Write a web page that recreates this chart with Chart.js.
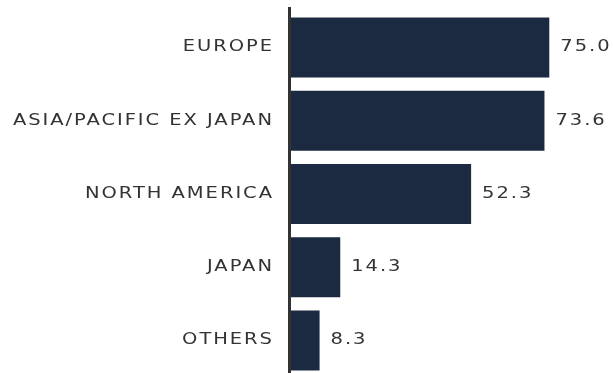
<!DOCTYPE html>
<html>
<head>
<meta charset="utf-8">
<script src="https://cdn.jsdelivr.net/npm/chart.js@4"></script>
<style>
  html, body { margin: 0; padding: 0; background: #fff; overflow: hidden; }
  #wrap { width: 613px; height: 377px; }
</style>
</head>
<body>
<div id="wrap"><canvas id="barchart"></canvas></div>
<script>
// regions and share values
const regions = ['EUROPE', 'ASIA/PACIFIC EX JAPAN', 'NORTH AMERICA', 'JAPAN', 'OTHERS'];
const values = [75.0, 73.6, 52.3, 14.3, 8.3];

const barColor = '#1b2a41';
const textColor = '#333333';
const fontFamily = '"DejaVu Sans", sans-serif';
const stretch = 1.3;   // the original face is a wide geometric sans

// draws text a bit wider than the face, anchored at x
function wideText(ctx, text, x, y, align) {
  ctx.save();
  ctx.translate(x, y);
  ctx.scale(stretch, 1);
  ctx.letterSpacing = '1.5px';
  ctx.textAlign = align;
  ctx.textBaseline = 'middle';
  ctx.fillText(text, align === 'right' ? 1.5 : 0, 0);
  ctx.restore();
}

// category names, value text and the axis line running up past the bars
const labelsPlugin = {
  id: 'labelsPlugin',
  afterDatasetsDraw(chart) {
    const ctx = chart.ctx;
    const meta = chart.getDatasetMeta(0);
    const yScale = chart.scales.y;
    const area = chart.chartArea;
    ctx.save();
    ctx.strokeStyle = '#333333';
    ctx.lineWidth = 3;
    ctx.beginPath();
    ctx.moveTo(area.left - 1.5, 7);
    ctx.lineTo(area.left - 1.5, chart.height);
    ctx.stroke();
    ctx.font = '15px ' + fontFamily;
    ctx.fillStyle = textColor;
    regions.forEach(function(name, i) {
      wideText(ctx, name, area.left - 19, yScale.getPixelForValue(i), 'right');
    });
    meta.data.forEach(function(bar, i) {
      wideText(ctx, values[i].toFixed(1), bar.x + 11, bar.y, 'left');
    });
    ctx.restore();
  }
};

var canvas = document.getElementById('barchart');
var config = {
  type: 'bar',
  data: {
    labels: regions,
    datasets: [{
      data: values,
      backgroundColor: barColor,
      borderWidth: 0,
      barPercentage: 0.82,
      categoryPercentage: 1
    }]
  },
  options: {
    indexAxis: 'y',
    responsive: true,
    maintainAspectRatio: false,
    animation: false,
    layout: { padding: { top: 11, right: 0, bottom: 0, left: 0 } },
    plugins: { legend: { display: false }, tooltip: { enabled: false } },
    scales: {
      x: { display: false, min: 0, max: 93.5 },
      y: {
        afterFit(scale) {
          scale.width = 291;
          scale.paddingTop = 0;
          scale.paddingBottom = 0;
        },
        grid: { display: false, drawTicks: false },
        border: { display: false },
        ticks: { display: false }
      }
    }
  },
  plugins: [labelsPlugin]
};
var chart = new Chart(canvas, config);
</script>
</body>
</html>
